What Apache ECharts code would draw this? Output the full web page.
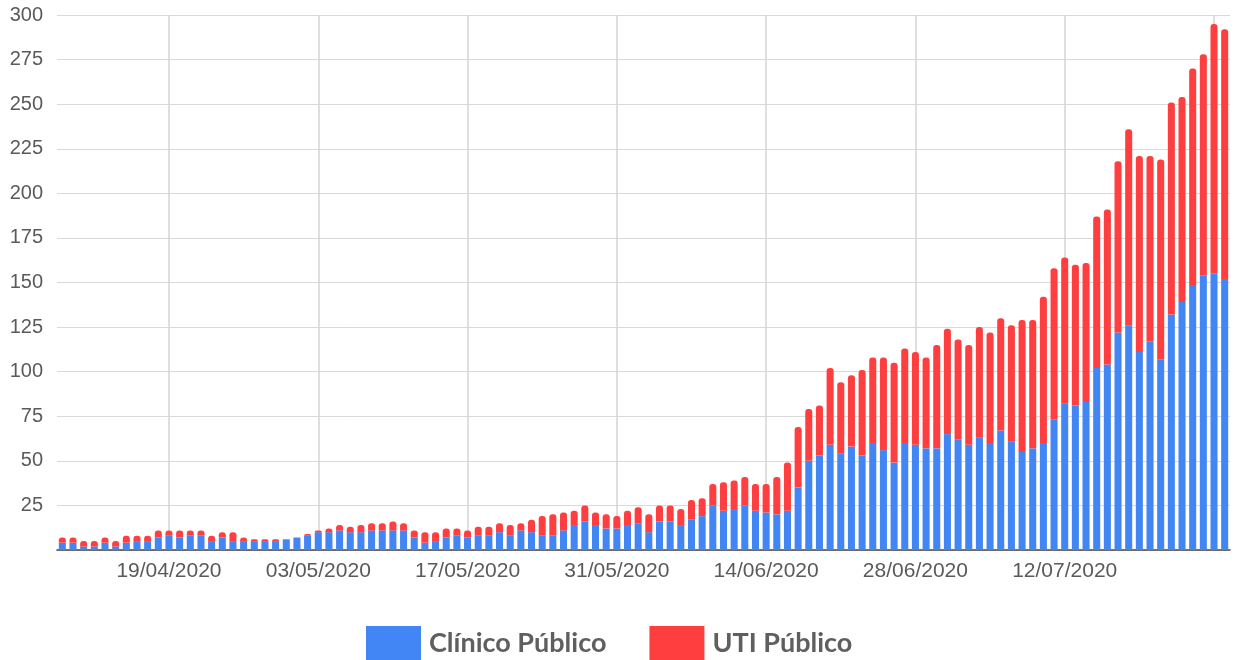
<!DOCTYPE html>
<html lang="pt">
<head>
    <meta charset="UTF-8">
    <title>Leitos ocupados</title>
    <script src="https://cdn.jsdelivr.net/npm/echarts@6/dist/echarts.min.js"></script>
    <style>
        html, body { margin: 0; padding: 0; background: #fff; }
        #main { width: 1234px; height: 660px; }
    </style>
</head>
<body>
<div id="main"></div>
<script>
// dias de 09/04/2020 a 27/07/2020
var startDate = new Date(2020, 3, 9);
var dayCount = 110;
var dates = [];
for (var i = 0; i < dayCount; i++) {
    var d = new Date(startDate.getFullYear(), startDate.getMonth(), startDate.getDate() + i);
    var dd = ('0' + d.getDate()).slice(-2);
    var mm = ('0' + (d.getMonth() + 1)).slice(-2);
    dates.push(dd + '/' + mm + '/' + d.getFullYear());
}

// leitos clinicos publicos
var clinico = [
    4, 4, 2, 2, 4, 2, 4, 5, 5, 7,
    8, 7, 8, 8, 5, 7, 5, 5, 5, 5,
    5, 6, 7, 8, 10, 10, 11, 10, 10, 11,
    11, 11, 11, 7, 4, 5, 7, 8, 7, 8,
    8, 10, 8, 11, 10, 8, 8, 11, 14, 16,
    14, 12, 12, 14, 15, 10, 16, 16, 14, 17,
    19, 25, 22, 23, 25, 22, 21, 20, 22, 35,
    50, 53, 59, 54, 58, 53, 60, 56, 49, 60,
    59, 57, 57, 65, 62, 59, 63, 60, 67, 61,
    55, 57, 60, 73, 82, 81, 83, 102, 104, 122,
    126, 111, 117, 107, 132, 139, 148, 154, 155, 152
];
// leitos UTI publicos
var uti = [
    3, 3, 3, 3, 3, 3, 4, 3, 3, 4,
    3, 4, 3, 3, 3, 3, 5, 2, 1, 1,
    1, 0, 0, 1, 1, 2, 3, 3, 4, 4,
    4, 5, 4, 4, 6, 5, 5, 4, 4, 5,
    5, 5, 6, 4, 7, 11, 12, 10, 8, 9,
    7, 8, 7, 8, 9, 10, 9, 9, 9, 11,
    10, 12, 16, 16, 16, 15, 16, 21, 27, 34,
    29, 28, 43, 40, 40, 48, 48, 52, 56, 53,
    52, 51, 58, 59, 56, 56, 62, 62, 63, 65,
    74, 72, 82, 85, 82, 79, 78, 85, 87, 96,
    110, 110, 104, 112, 119, 115, 122, 124, 140, 140
];
var yTicks = [25, 50, 75, 100, 125, 150, 175, 200, 225, 250, 275, 300];

// marcas a cada 14 dias a partir de 19/04
function marca(idx) { return idx >= 10 && (idx - 10) % 14 === 0; }

var myChart = echarts.init(document.getElementById('main'));
option = {
    animation: false,
    grid: { left: 57, right: 4, top: 15, bottom: 110 },
    legend: {
        left: 361,
        top: 621,
        icon: 'rect',
        itemWidth: 55,
        itemHeight: 34,
        itemGap: 43,
        textStyle: { fontFamily: 'Lato', fontWeight: 'bold', fontSize: 27, color: '#5f5f5f', padding: [0, 0, 0, 3] }
    },
    xAxis: {
        type: 'category',
        data: dates,
        boundaryGap: true,
        axisTick: { show: false },
        axisLine: { lineStyle: { color: '#444', width: 1.5 } },
        axisLabel: {
            interval: function (idx) { return marca(idx) && idx < 108; },
            fontFamily: 'Liberation Sans',
            fontSize: 21,
            color: '#5a5a5a',
            margin: 11
        },
        splitLine: {
            show: true,
            alignWithLabel: true,
            interval: function (idx) { return marca(idx); },
            lineStyle: { color: '#d4d4d4', width: 1.5 }
        }
    },
    yAxis: {
        type: 'value',
        min: 0,
        max: yTicks[yTicks.length - 1],
        interval: yTicks[0],
        axisLine: { show: false },
        axisTick: { show: false },
        axisLabel: {
            showMinLabel: false,
            fontFamily: 'Liberation Sans',
            fontSize: 20,
            color: '#5a5a5a',
            margin: 14
        },
        splitLine: { lineStyle: { color: '#d9d9d9', width: 1 } }
    },
    series: [
        {
            name: 'Clínico Público',
            type: 'bar',
            stack: 'total',
            data: clinico,
            barCategoryGap: '34%',
            itemStyle: { color: '#4285f4' }
        },
        {
            name: 'UTI Público',
            type: 'bar',
            stack: 'total',
            data: uti,
            barCategoryGap: '34%',
            itemStyle: { color: '#ff3f3f', borderRadius: [3, 3, 0, 0] }
        }
    ]
};
myChart.setOption(option);
</script>
</body>
</html>
